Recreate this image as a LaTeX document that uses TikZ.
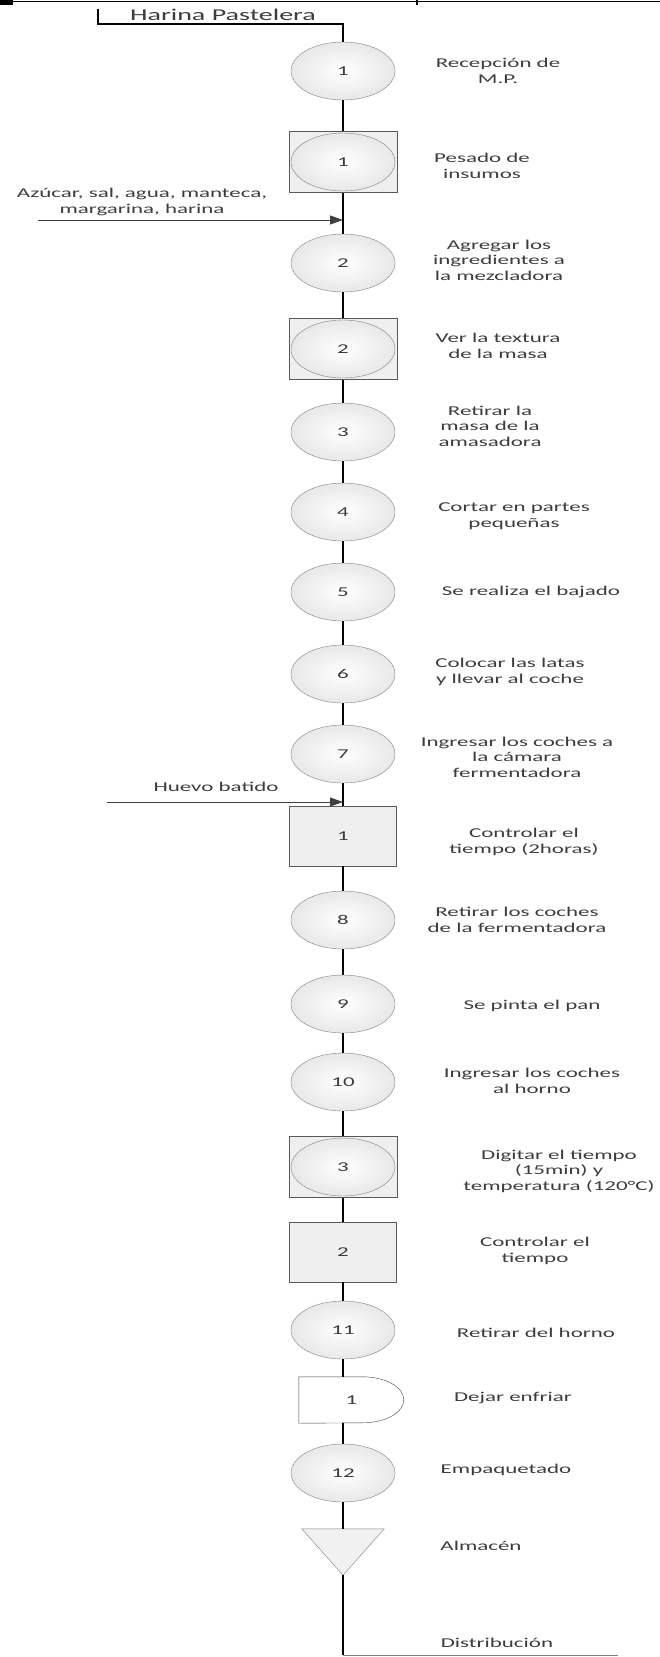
\documentclass[tikz,border=0pt]{standalone}
\usepackage{fontspec}
\setmainfont{Carlito}[FakeStretch=1.7]
\usepackage{tikz}
\usetikzlibrary{shapes.geometric, arrows.meta, positioning, calc}
\definecolor{opline}{RGB}{128, 128, 128}
\definecolor{opfill}{RGB}{232, 232, 232}
\definecolor{txtgray}{RGB}{60, 60, 60}

\begin{document}
\begin{tikzpicture}[
    x=1pt, y=1pt,
    opn/.style={ellipse, draw=opline, inner color=white, outer color=opfill,
                minimum width=104pt, minimum height=58pt, inner sep=0pt,
                text=txtgray, font=\fontsize{13.5}{15.5}\selectfont},
    boxed/.style={rectangle, draw=black!65, fill=opfill!70, minimum width=108pt,
                  minimum height=61pt, inner sep=0pt, text=txtgray,
                  font=\fontsize{13.5}{15.5}\selectfont},
    ghost/.style={rectangle, minimum width=#1, inner sep=0pt, text=txtgray,
                  font=\fontsize{13.5}{15.5}\selectfont},
    lbl/.style={align=center, text=txtgray, font=\fontsize{13.5}{15.5}\selectfont},
    flow/.style={line width=1.5pt, black},
    feed/.style={line width=0.8pt, black!75, -{Triangle[length=13pt, width=9pt]}},
]
\useasboundingbox (0,0) rectangle (660,-1657);

% page rule at the top
\draw[line width=1.6pt] (0,-1.5) -- (660,-1.5);
\fill (0,0) rectangle (13,-4.5);
\draw[line width=1.2pt] (417,0) -- (417,-4.5);

% operations and inspections
\node[opn] (o1) at (343,-71) {1};
\node[boxed] (c1) at (343,-162) {};
\node[opn] (c1e) at (c1) {1};
\node[opn] (o2) at (343,-263) {2};
\node[boxed] (c2) at (343,-349) {};
\node[opn] (c2e) at (c2) {2};
\node[opn] (o3) at (343,-432) {3};
\node[opn] (o4) at (343,-512) {4};
\node[opn] (o5) at (343,-592) {5};
\node[opn] (o6) at (343,-674) {6};
\node[opn] (o7) at (343,-754) {7};
\node[boxed, minimum width=107pt, minimum height=60pt] (i1) at (343,-836) {1};
\node[opn] (o8) at (343,-920) {8};
\node[opn] (o9) at (343,-1004) {9};
\node[opn] (o10) at (343,-1082) {10};
\node[boxed] (c3) at (343,-1167) {};
\node[opn] (c3e) at (c3) {3};
\node[boxed, minimum width=107pt, minimum height=60pt] (i2) at (343,-1252) {2};
\node[opn] (o11) at (343,-1330) {11};
\node[ghost=105pt, minimum height=46pt] (d1) at (351.5,-1400) {};
\node[opn] (o12) at (343,-1473) {12};
\node[ghost=82pt, minimum height=46pt] (a1) at (343,-1552) {};
\coordinate (dist) at (343,-1655);
\coordinate (distend) at (618,-1655);

% delay and storage outlines
\draw[black!75, fill=white] (d1.north west) -- ++(64,0)
    arc[start angle=90, end angle=-90, x radius=41, y radius=23]
    -- (d1.south west) -- cycle;
\node[text=txtgray, font=\fontsize{13.5}{15.5}\selectfont] at (d1) {1};
\draw[opline, fill=opfill!60] (a1.north west) -- (a1.north east) -- (a1.south) -- cycle;

% main line
\foreach \a/\b in {o1/c1, c1/o2, o2/c2, c2/o3, o3/o4, o4/o5, o5/o6, o6/o7,
                   o7/i1, i1/o8, o8/o9, o9/o10, o10/c3, c3/i2, i2/o11,
                   o11/d1, d1/o12, o12/a1}
    \draw[flow] (\b.north -| o1) -- (\a.south -| o1);
\draw[flow] (a1.south) -- (dist);
\draw[opline, line width=0.8pt] (dist) -- (distend);

% raw material entry
\coordinate (h0) at (98,-9);
\node[lbl, font=\fontsize{16.5}{18}\selectfont] (harina) at (223,-15) {Harina Pastelera};
\draw[flow, line width=1.2pt] (h0) -- ++(0,-15) -| (o1.north);

% added materials
\node[lbl] (azucar) at (142,-202) {Azúcar, sal, agua, manteca,\\margarina, harina};
\coordinate (in1) at (38,-220);
\draw[feed] (in1) -- (in1 -| o1);
\node[lbl] (huevo) at (216,-787) {Huevo batido};
\coordinate (in2) at (107,-802);
\draw[feed] (in2) -- (in2 -| o1);

% step descriptions
\node[lbl] (t1) at (498,-71) {Recepción de\\M.P.};
\node[lbl] (t2) at (482,-166) {Pesado de\\insumos};
\node[lbl] (t3) at (499,-260) {Agregar los\\ingredientes a\\la mezcladora};
\node[lbl] (t4) at (498,-346) {Ver la textura\\de la masa};
\node[lbl] (t5) at (490,-426) {Retirar la\\masa de la\\amasadora};
\node[lbl] (t6) at (514,-516) {Cortar en partes\\pequeñas};
\node[lbl] (t7) at (531,-592) {Se realiza el bajado};
\node[lbl] (t8) at (510,-672) {Colocar las latas\\y llevar al coche};
\node[lbl] (t9) at (517,-757) {Ingresar los coches a\\la cámara\\fermentadora};
\node[lbl] (t10) at (524,-842) {Controlar el\\tiempo (2horas)};
\node[lbl] (t11) at (517,-920) {Retirar los coches\\de la fermentadora};
\node[lbl] (t12) at (532,-1006) {Se pinta el pan};
\node[lbl] (t13) at (532,-1081) {Ingresar los coches\\al horno};
\node[lbl] (t14) at (559,-1171) {Digitar el tiempo\\(15min) y\\temperatura (120°C)};
\node[lbl] (t15) at (535,-1251) {Controlar el\\tiempo};
\node[lbl] (t16) at (536,-1333) {Retirar del horno};
\node[lbl] (t17) at (513,-1398) {Dejar enfriar};
\node[lbl] (t18) at (506,-1470) {Empaquetado};
\node[lbl] (t19) at (481,-1546) {Almacén};
\node[lbl] (t20) at (497,-1643) {Distribución};

\end{tikzpicture}
\end{document}
